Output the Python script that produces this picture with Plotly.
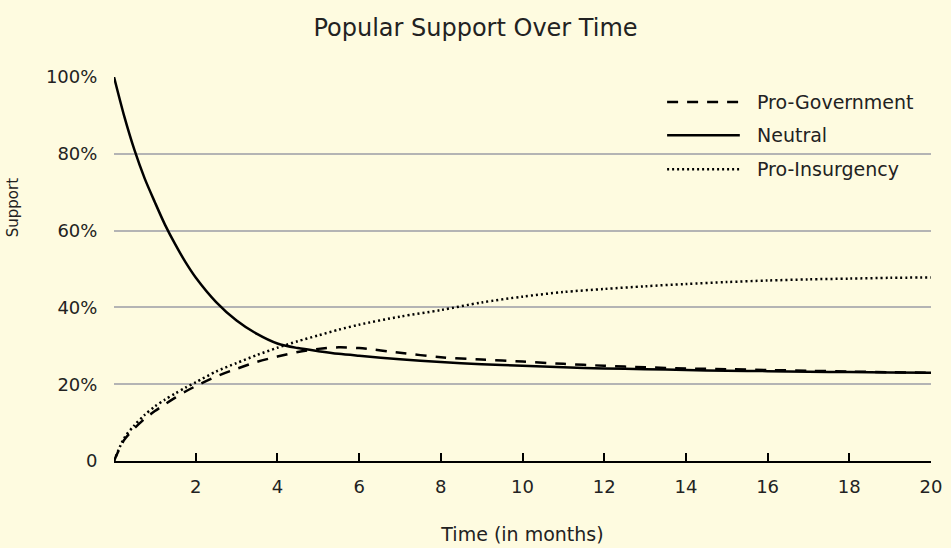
import plotly.graph_objects as go

# Data
months = [0, 0.25, 0.5, 0.75, 1, 1.25, 1.5, 1.75, 2, 2.5, 3, 3.5, 4, 4.5, 5, 5.5, 6, 7, 8, 9, 10,
          11, 12, 13, 14, 15, 16, 17, 18, 19, 20]
neutral = [100, 89.8, 81, 73.6, 67.4, 61.5, 56.4, 51.8, 47.8, 41.4, 36.6, 33.1, 30.6, 29.4, 28.6,
           27.9, 27.4, 26.5, 25.8, 25.2, 24.8, 24.4, 24.1, 23.9, 23.7, 23.5, 23.4, 23.25, 23.15,
           23.05, 23.0]
pro_government = [0, 5.5, 8.5, 11, 13, 14.8, 16.5, 18.1, 19.5, 22, 24, 25.8, 27.2, 28.4, 29.2,
                  29.6, 29.4, 28.2, 27.0, 26.4, 25.9, 25.3, 24.8, 24.4, 24.1, 23.9, 23.7, 23.5,
                  23.3, 23.1, 23.0]
pro_insurgency = [0, 6, 9.3, 12, 14.2, 16.0, 17.6, 19.1, 20.5, 23.3, 25.5, 27.6, 29.5, 31.2, 32.7,
                  34.2, 35.5, 37.6, 39.3, 41.3, 42.8, 44.0, 44.8, 45.5, 46.1, 46.6, 47.0, 47.3,
                  47.5, 47.7, 47.8]

x_ticks = [2, 4, 6, 8, 10, 12, 14, 16, 18, 20]
y_ticks = [0, 20, 40, 60, 80, 100]
y_labels = ["0", "20%", "40%", "60%", "80%", "100%"]

series_names = ["Pro-Government", "Neutral", "Pro-Insurgency"]
series_values = [pro_government, neutral, pro_insurgency]
series_dash = ["11px,9px", "solid", "2px,3px"]

BG = "#FEFBE0"
FONT = "DejaVu Sans"
TXT = "#222222"

fig = go.Figure()
for name, vals, dash in zip(series_names, series_values, series_dash):
    fig.add_trace(go.Scatter(x=months, y=vals, mode="lines", name=name,
                             line=dict(color="black", width=2.5, dash=dash, shape="spline",
                                       smoothing=0.8),
                             showlegend=False))

# Manual legend (longer sample lines, as in the reference)
leg_y = [0.935, 0.848, 0.760]
for name, dash, yy in zip(series_names, series_dash, leg_y):
    fig.add_shape(type="line", xref="paper", yref="paper", x0=0.677, x1=0.766, y0=yy, y1=yy,
                  line=dict(color="black", width=2.5, dash=dash))
    fig.add_annotation(xref="paper", yref="paper", x=0.785, y=yy, text=name, showarrow=False,
                       xanchor="left", yanchor="middle", font=dict(family=FONT, size=19, color=TXT))

fig.add_annotation(xref="paper", yref="paper", x=-0.124, y=0.66, text="Support", textangle=-90,
                   showarrow=False, xanchor="center", yanchor="middle",
                   font=dict(family=FONT, size=15, color=TXT))

fig.update_layout(
    width=951, height=548,
    paper_bgcolor=BG, plot_bgcolor=BG,
    margin=dict(l=114, r=20, t=77, b=87),
    font=dict(family=FONT, size=18, color=TXT),
    title=dict(text="Popular Support Over Time", x=0.5, xanchor="center", y=0.95, yanchor="middle",
               font=dict(family=FONT, size=24, color=TXT)),
    xaxis=dict(range=[0, 20], tickvals=x_ticks, ticks="inside", ticklen=8, tickwidth=2,
               tickcolor="black", showline=True, linecolor="black", linewidth=2,
               showgrid=False, zeroline=False, ticklabelstandoff=8, automargin=False,
               title=dict(text="Time (in months)", standoff=32, font=dict(family=FONT, size=19, color=TXT))),
    yaxis=dict(range=[0, 100], tickvals=y_ticks, ticktext=y_labels, ticks="outside", ticklen=12,
               tickcolor="rgba(0,0,0,0)", showline=False, showgrid=True, gridcolor="#B4B4B4",
               gridwidth=2, zeroline=False, automargin=False),
)

fig.write_html("out.html", config={"displayModeBar": False})

# remove the default page margin so the figure sits at the window origin
with open("out.html", "r", encoding="utf-8") as f:
    html = f.read()
html = html.replace("<body>", "<body style=\"margin:0;background:%s\">" % BG, 1)
with open("out.html", "w", encoding="utf-8") as f:
    f.write(html)
